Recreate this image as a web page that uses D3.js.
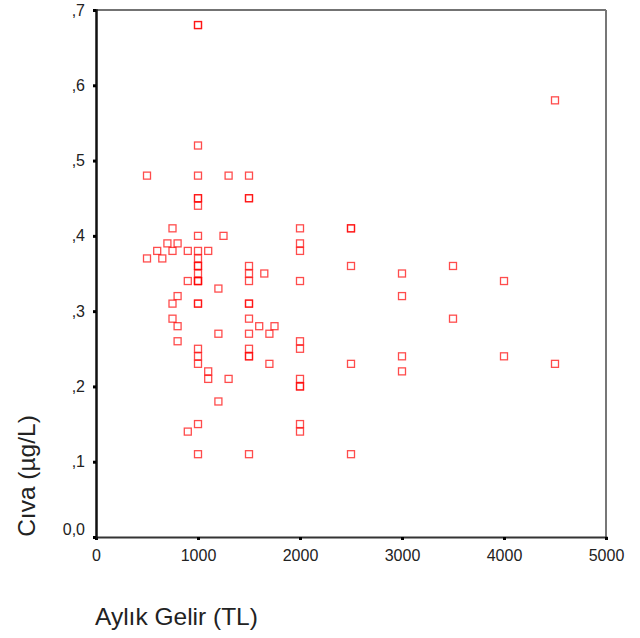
<!DOCTYPE html>
<html>
<head>
<meta charset="utf-8">
<script src="https://cdn.jsdelivr.net/npm/d3@7"></script>
<style>
    body { margin: 0; background: #fff; }
    svg text { font-family: "Liberation Sans", Arial, sans-serif; fill: #222; }
</style>
</head>
<body>
<svg id="chart"></svg>
<script>
// monthly income (TL) and mercury (µg/L)
var gelir = [
    1000, 1000, 1000, 500, 1000, 1300, 1500, 1000, 1000, 1000, 1500, 1500,
    750, 1000, 1250, 2000, 2500, 2500, 700, 800, 2000, 600, 750, 900, 1000, 1100, 2000,
    500, 650, 1000, 1000, 1000, 1000, 1500, 2500, 3500, 1000, 1500, 1650, 3000,
    900, 1000, 1000, 1500, 2000, 4000, 1200, 800, 3000,
    750, 1000, 1000, 1500, 1500, 750, 1500, 3500, 800, 1600, 1750,
    1200, 1500, 1700, 800, 2000, 1000, 1500, 2000,
    1000, 1500, 1500, 3000, 4000, 1000, 1700, 2500, 4500,
    1100, 3000, 1100, 1300, 2000, 2000, 2000, 1200,
    1000, 2000, 900, 2000, 1000, 1500, 2500, 4500
];
var civa = [
    0.68, 0.68, 0.52, 0.48, 0.48, 0.48, 0.48, 0.45, 0.45, 0.44, 0.45, 0.45,
    0.41, 0.40, 0.40, 0.41, 0.41, 0.41, 0.39, 0.39, 0.39, 0.38, 0.38, 0.38, 0.38, 0.38, 0.38,
    0.37, 0.37, 0.37, 0.36, 0.36, 0.35, 0.36, 0.36, 0.36, 0.34, 0.35, 0.35, 0.35,
    0.34, 0.34, 0.34, 0.34, 0.34, 0.34, 0.33, 0.32, 0.32,
    0.31, 0.31, 0.31, 0.31, 0.31, 0.29, 0.29, 0.29, 0.28, 0.28, 0.28,
    0.27, 0.27, 0.27, 0.26, 0.26, 0.25, 0.25, 0.25,
    0.24, 0.24, 0.24, 0.24, 0.24, 0.23, 0.23, 0.23, 0.23,
    0.22, 0.22, 0.21, 0.21, 0.21, 0.20, 0.20, 0.18,
    0.15, 0.15, 0.14, 0.14, 0.11, 0.11, 0.11, 0.58
];
var xTicks = [0, 1000, 2000, 3000, 4000, 5000];
var yTicks = [0, 0.1, 0.2, 0.3, 0.4, 0.5, 0.6, 0.7];
var yTickLabels = ["0,0", ",1", ",2", ",3", ",4", ",5", ",6", ",7"];

var data = gelir.map(function (g, i) { return { x: g, y: civa[i] }; });

var margin = { top: 10, right: 34, bottom: 101, left: 96 },
    width = 640 - margin.left - margin.right,
    height = 638 - margin.top - margin.bottom;

var svg = d3.select("#chart")
    .attr("width", 640)
    .attr("height", 638);

var g = svg.append("g")
    .attr("transform", "translate(" + margin.left + "," + margin.top + ")");

var x = d3.scaleLinear().domain([0, 5000]).range([0, width]);
var y = d3.scaleLinear().domain([0, 0.7]).range([height, 0]);

// frame: top and right are lighter
g.append("line").attr("x1", 0).attr("x2", width).attr("y1", 0).attr("y2", 0)
    .attr("stroke", "#444").attr("stroke-width", 1.5);
g.append("line").attr("x1", width).attr("x2", width).attr("y1", 0).attr("y2", height)
    .attr("stroke", "#777").attr("stroke-width", 2);

// x axis
var xAxis = g.append("g")
    .attr("transform", "translate(0," + height + ")")
    .call(d3.axisBottom(x).tickValues(xTicks).tickSize(3).tickPadding(10).tickFormat(d3.format("d")));
xAxis.select(".domain").attr("stroke", "#333").attr("stroke-width", 2);
xAxis.selectAll(".tick line").attr("stroke", "#000").attr("stroke-width", 3);
xAxis.selectAll("text").style("font-size", "16px");

// y axis
var yAxis = g.append("g")
    .call(d3.axisLeft(y).tickValues(yTicks).tickSize(3).tickPadding(8)
        .tickFormat(function (d, i) { return yTickLabels[i]; }));
yAxis.select(".domain").attr("stroke", "#111").attr("stroke-width", 2.5);
yAxis.selectAll(".tick line").attr("stroke", "#000").attr("stroke-width", 3);
yAxis.selectAll("text").style("font-size", "16px");
// the 0,0 label sits a little above its tick
yAxis.selectAll(".tick text").filter(function (d) { return d === 0; }).attr("y", -8);

// points
g.selectAll(".pt")
    .data(data)
    .enter().append("rect")
    .attr("class", "pt")
    .attr("x", function (d) { return x(d.x) - 3.5; })
    .attr("y", function (d) { return y(d.y) - 3.5; })
    .attr("width", 7)
    .attr("height", 7)
    .attr("fill", "none")
    .attr("stroke", "#ff0000")
    .attr("stroke-opacity", 0.7)
    .attr("stroke-width", 1.3);

// axis titles
svg.append("text")
    .attr("x", 95)
    .attr("y", 625)
    .style("font-size", "24.5px")
    .text("Aylık Gelir (TL)");

svg.append("text")
    .attr("transform", "translate(35," + 476 + ") rotate(-90)")
    .attr("text-anchor", "middle")
    .style("font-size", "24.5px")
    .text("Cıva (µg/L)");
</script>
</body>
</html>
